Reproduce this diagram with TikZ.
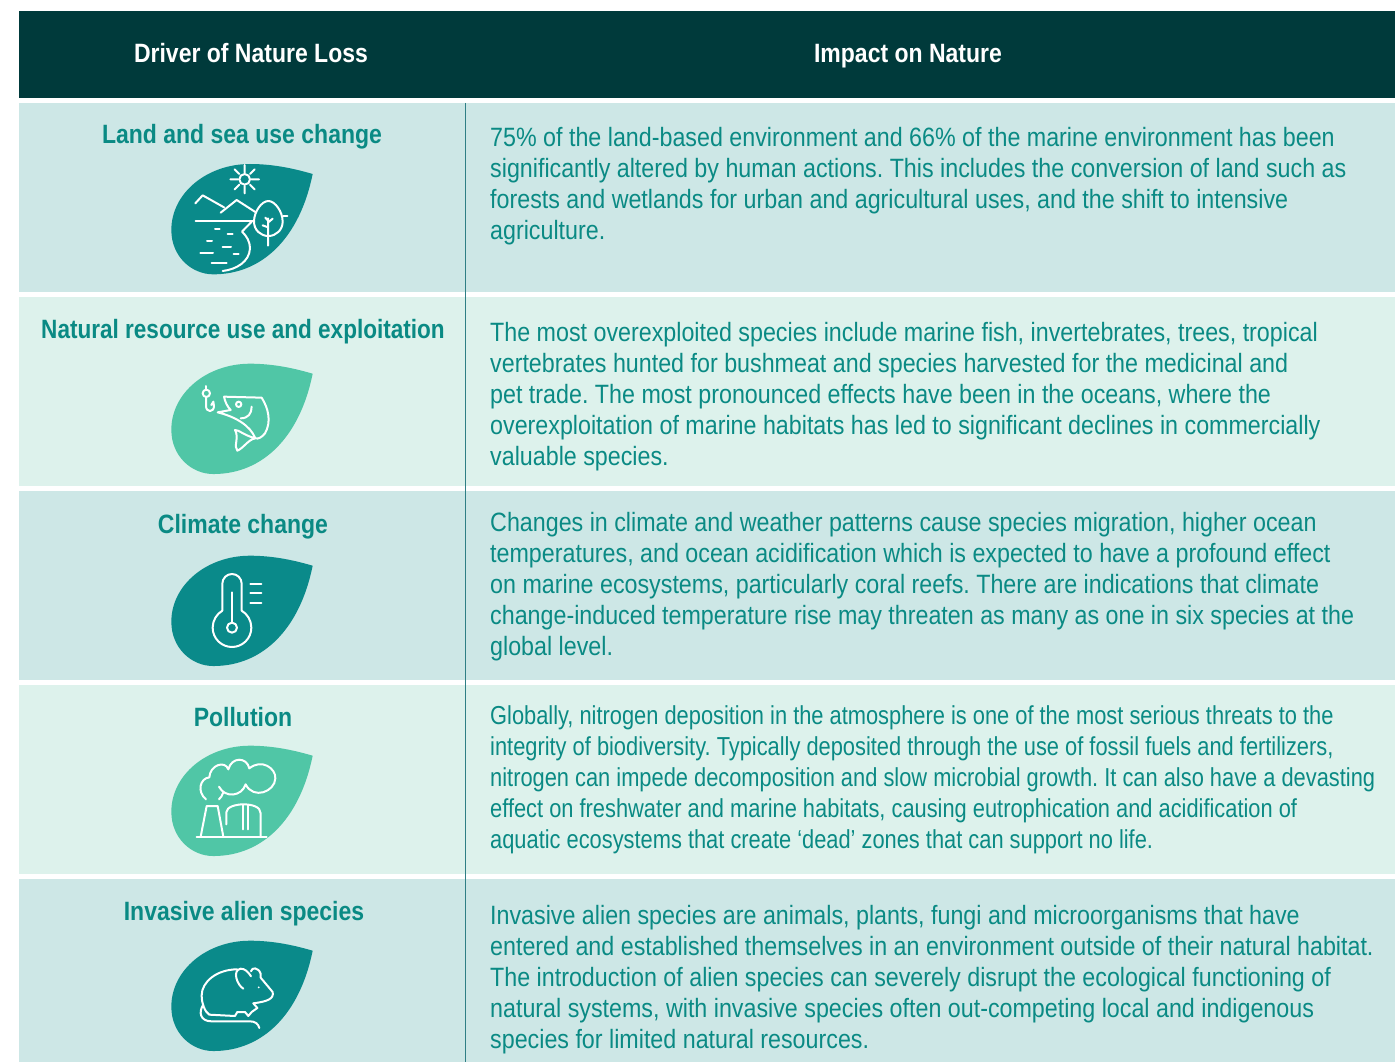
\documentclass[tikz,border=0pt]{standalone}
\usepackage{fontspec}
\setmainfont{Liberation Sans}
\newfontfamily\bodyf[FakeStretch=0.878]{Liberation Sans}
\newfontfamily\polf[FakeStretch=0.84]{Liberation Sans}
\newfontfamily\titlef[FakeStretch=0.868]{Liberation Sans}
\newfontfamily\titlenf[FakeStretch=0.851]{Liberation Sans}
\definecolor{hdr}{HTML}{003A3B}
\definecolor{rowa}{HTML}{CDE7E6}
\definecolor{rowb}{HTML}{DDF2EC}
\definecolor{leafa}{HTML}{0A8A8A}
\definecolor{leafb}{HTML}{50C6A6}
\definecolor{tealtxt}{HTML}{0A8A84}
\definecolor{rule}{HTML}{2F7F85}
\tikzset{
  x=1pt,y=-1pt,
  body/.style={anchor=north west,inner sep=0pt,align=left,text=tealtxt,font=\bodyf\frenchspacing\fontsize{26.5}{31.1}\selectfont},
  polbody/.style={anchor=north west,inner sep=0pt,align=left,text=tealtxt,font=\polf\frenchspacing\fontsize{26}{31.1}\selectfont},
  rowtitle/.style={anchor=base,inner sep=0pt,text=tealtxt,font=\titlef\fontsize{26.5}{30}\selectfont\bfseries},
  headtitle/.style={anchor=base,inner sep=0pt,text=white,font=\titlef\fontsize{26.5}{30}\selectfont\bfseries},
  icon/.style={draw=white,line width=2pt,line cap=round,line join=round,fill=none},
}
\newcommand{\leafshape}[3]{%
  \begin{scope}[shift={(#1,#2)},scale=0.33333]
    \fill[#3] (488,72) .. controls (420,52) and (360,42) .. (300,42)
      .. controls (170,42) and (64,130) .. (64,240)
      .. controls (64,320) and (125,373) .. (190,373)
      .. controls (340,373) and (450,260) .. (488,72) -- cycle;
  \end{scope}}
\begin{document}
\begin{tikzpicture}
\useasboundingbox (0,0) rectangle (1395,1062);
\fill[white] (0,0) rectangle (1395,1062);
\fill[hdr] (19,11) rectangle (1395,98);
\fill[rowa] (19,103) rectangle (1395,292);
\fill[rowb] (19,297) rectangle (1395,486);
\fill[rowa] (19,491) rectangle (1395,680);
\fill[rowb] (19,685) rectangle (1395,874);
\fill[rowa] (19,879) rectangle (1395,1062);
\draw[rule,line width=1pt] (465.5,103) -- (465.5,1062);

\node[headtitle] (h1) at (251,62.7) {Driver of Nature Loss};
\node[headtitle] (h2) at (908,62.7) {Impact on Nature};

\node[rowtitle] (t1) at (242,143) {Land and sea use change};
\node[rowtitle,font=\titlenf\fontsize{26.5}{30}\selectfont\bfseries] (t2) at (243,338) {Natural resource use and exploitation};
\node[rowtitle] (t3) at (243,533) {Climate change};
\node[rowtitle] (t4) at (243,726) {Pollution};
\node[rowtitle] (t5) at (244,920) {Invasive alien species};

\node[body] (b1) at (490,124.2) {\strut 75\% of the land-based environment and 66\% of the marine environment has been\\
significantly altered by human actions. This includes the conversion of land such as\\
forests and wetlands for urban and agricultural uses, and the shift to intensive\\
agriculture.};
\node[body] (b2) at (490,319.2) {\strut The most overexploited species include marine fish, invertebrates, trees, tropical\\
vertebrates hunted for bushmeat and species harvested for the medicinal and\\
pet trade. The most pronounced effects have been in the oceans, where the\\
overexploitation of marine habitats has led to significant declines in commercially\\
valuable species.};
\node[body] (b3) at (490,509.2) {\strut Changes in climate and weather patterns cause species migration, higher ocean\\
temperatures, and ocean acidification which is expected to have a profound effect\\
on marine ecosystems, particularly coral reefs. There are indications that climate\\
change-induced temperature rise may threaten as many as one in six species at the\\
global level.};
\node[polbody] (b4) at (490,702.2) {\strut Globally, nitrogen deposition in the atmosphere is one of the most serious threats to the\\
integrity of biodiversity. Typically deposited through the use of fossil fuels and fertilizers,\\
nitrogen can impede decomposition and slow microbial growth. It can also have a devasting\\
effect on freshwater and marine habitats, causing eutrophication and acidification of\\
aquatic ecosystems that create ‘dead’ zones that can support no life.};
\node[body] (b5) at (490,902.2) {\strut Invasive alien species are animals, plants, fungi and microorganisms that have\\
entered and established themselves in an environment outside of their natural habitat.\\
The introduction of alien species can severely disrupt the ecological functioning of\\
natural systems, with invasive species often out-competing local and indigenous\\
species for limited natural resources.};

% leaves
\leafshape{150}{150}{leafa}
\leafshape{150}{349.7}{leafb}
\leafshape{150}{541.7}{leafa}
\leafshape{150}{731.7}{leafb}
\leafshape{150}{926.7}{leafa}

% icon 1
\begin{scope}[shift={(150,150)},scale=0.33333]
  \draw[icon] (284,88) circle[radius=16];
  \draw[icon] (284,45)--(284,68) (284,108)--(284,130) (241,88)--(264,88) (304,88)--(327,88)
    (254,58)--(268,72) (314,58)--(300,72) (254,118)--(268,104) (314,118)--(300,104);
  \draw[icon] (136,160)--(158,136)--(222,172) (212,188)--(260,150)--(316,186);
  \draw[icon] (137,212)--(310,212) (400,197)--(412,197);
  \draw[icon] (355,153) .. controls (335,153) and (312,185) .. (312,215) .. controls (312,240) and (332,258) .. (355,258)
    .. controls (378,258) and (398,240) .. (398,215) .. controls (398,185) and (375,153) .. (355,153);
  \draw[icon] (354,287)--(354,205) (354,232)--(338,226) (354,218)--(368,206) (354,212)--(346,203);
  \draw[icon] (305,215)--(276,245) .. controls (290,258) and (300,275) .. (300,295) .. controls (298,335) and (260,358) .. (218,363);
  \draw[icon] (195,236)--(209,236) (233,253)--(248,253) (171,272)--(186,272) (218,290)--(243,290)
    (151,309)--(189,309) (251,311)--(266,311) (185,338)--(230,338);
\end{scope}

% icon 2
\begin{scope}[shift={(150,350)},scale=0.33333]
  \draw[icon] (169,130) circle[radius=11];
  \draw[icon] (169,108)--(169,118);
  \draw[icon] (168,142)--(168,168) .. controls (168,188) and (192,188) .. (192,168) -- (190,155) -- (184,165);
  \draw[icon] (222,140) -- (335,143) .. controls (355,175) and (365,215) .. (345,250)
    .. controls (335,262) and (325,268) .. (316,265) .. controls (295,268) and (280,295) .. (262,302)
    .. controls (250,290) and (268,262) .. (255,240) .. controls (268,240) and (280,255) .. (316,265)
    .. controls (300,225) and (255,200) .. (203,187) -- (242,180) .. controls (232,170) and (225,155) .. (222,140);
  \draw[icon] (266,163) circle[radius=8];
  \draw[icon] (305,170) .. controls (305,190) and (295,205) .. (272,205);
\end{scope}

% icon 3
\begin{scope}[shift={(150,545)},scale=0.33333]
  \draw[icon] (217,197) -- (217,116) .. controls (217,100) and (230,87) .. (246,87) .. controls (262,87) and (275,100) .. (275,116) -- (275,197)
    .. controls (292,207) and (304,226) .. (304,248) .. controls (304,280) and (278,306) .. (246,306)
    .. controls (214,306) and (188,280) .. (188,248) .. controls (188,226) and (200,207) .. (217,197);
  \draw[icon] (246,142)--(246,232);
  \draw[icon] (246,248) circle[radius=15];
  \draw[icon] (301,116)--(334,116) (301,145)--(334,145) (301,173)--(334,173);
\end{scope}

% icon 4
\begin{scope}[shift={(150,735)},scale=0.33333]
  \draw[icon] (168,193) .. controls (140,170) and (150,130) .. (178,127)
    .. controls (180,90) and (225,75) .. (235,103)
    .. controls (245,65) and (290,65) .. (298,100)
    .. controls (335,70) and (378,100) .. (376,130)
    .. controls (375,170) and (310,195) .. (287,148)
    .. controls (275,185) and (225,190) .. (207,155);
  \draw[icon] (220,172) .. controls (217,182) and (212,188) .. (207,193);
  \draw[icon] (152,305)--(170,213)--(203,213)--(220,305);
  \draw[icon] (229,268)--(229,232) .. controls (229,215) and (260,208) .. (280,208) .. controls (305,208) and (332,215) .. (332,235)--(332,305);
  \draw[icon] (278,210)--(278,283) (295,210)--(295,283);
  \draw[icon] (140,307)--(350,307);
\end{scope}

% icon 5
\begin{scope}[shift={(150,932)},scale=0.33333]
  \draw[icon] (262,112) .. controls (200,112) and (155,150) .. (155,190) .. controls (155,215) and (165,240) .. (178,248)
    -- (255,252) -- (262,240) -- (285,240) -- (295,252) -- (305,240) -- (322,228) -- (310,214);
  \draw[icon] (280,170) .. controls (262,160) and (245,115) .. (272,110) .. controls (285,110) and (295,120) .. (303,133);
  \draw[icon] (303,118) .. controls (305,105) and (325,105) .. (332,125) -- (332,137) -- (368,180) .. controls (372,200) and (355,208) .. (310,214);
  \fill[white] (326,166) circle[radius=3];
  \draw[icon] (160,218) .. controls (145,240) and (150,268) .. (185,268) -- (300,268) .. controls (315,268) and (325,275) .. (328,288);
\end{scope}
\end{tikzpicture}
\end{document}
